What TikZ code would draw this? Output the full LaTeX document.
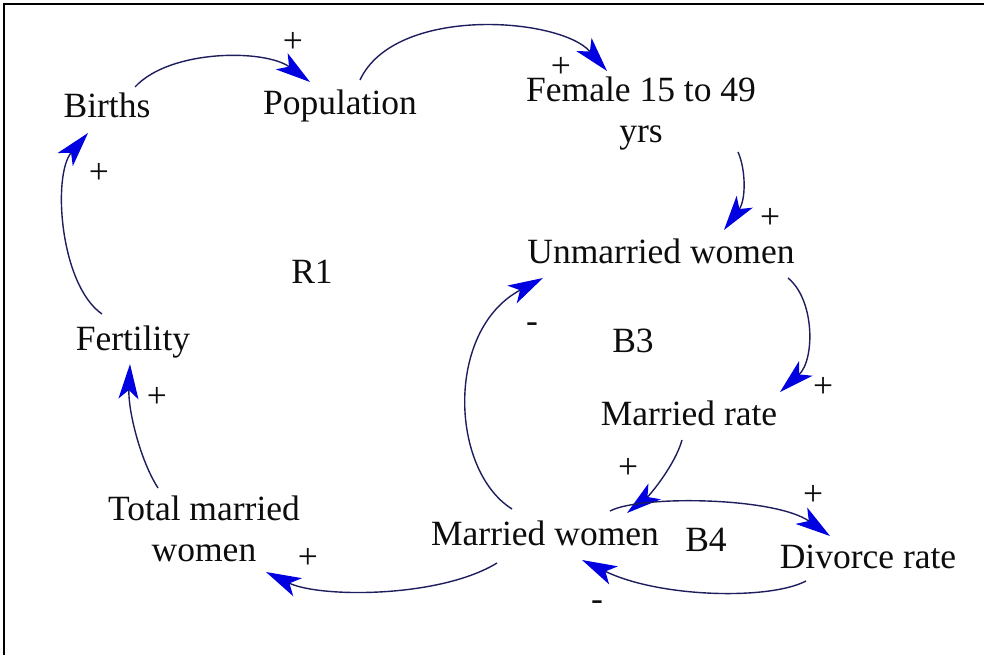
\documentclass[tikz,border=0pt]{standalone}
\usepackage{fontspec}
\setmainfont{Liberation Serif}
\usetikzlibrary{arrows.meta}

\definecolor{linkline}{RGB}{30,30,95}
\definecolor{linkhead}{RGB}{0,0,225}
\newcommand{\vfont}{\fontsize{35.5}{41}\selectfont}

\tikzset{
  var/.style={font=\vfont, inner sep=0pt, anchor=base, text=black!95},
  var2/.style={font=\vfont, inner sep=0pt, anchor=center, align=center, text=black!95},
  sign/.style={font=\vfont, inner sep=0pt, anchor=center, text=black!95},
  minus/.style={font=\vfont, inner sep=0pt, anchor=base, text=black!95},
  link/.style={draw=linkline, line width=1.4pt,
    -{Stealth[length=35pt, width=20pt, inset=9pt, color=linkhead]}},
  frame/.style={draw=black, line width=2pt}
}

\begin{document}
\begin{tikzpicture}[x=1pt, y=-1pt]
  \useasboundingbox[fill=white] (0,0) rectangle (984,655);
  \clip (0,0) rectangle (984,655);
  \draw[frame] (4,4) rectangle (1000,700);

  % variables
  \node[var]  (births)       at (107,118) {Births};
  \node[var]  (population)   at (340,115) {Population};
  \node[var2] (female)       at (641,114) {Female 15 to 49\\yrs};
  \node[var]  (unmarried)    at (661,263) {Unmarried women};
  \node[var]  (marriedrate)  at (689,425) {Married rate};
  \node[var]  (marriedwomen) at (545,545) {Married women};
  \node[var]  (divorce)      at (868,568) {Divorce rate};
  \node[var2] (total)        at (204,529) {Total married\\women};
  \node[var]  (fertility)    at (133,350) {Fertility};

  % loop names
  \node[var] (loopR1) at (312,283) {R1};
  \node[var] (loopB3) at (633,352) {B3};
  \node[var] (loopB4) at (706,551) {B4};

  % causal links
  \draw[link] ([shift={(28,-31)}]births.base)
    .. controls +(35,-38) and +(-45,-33) .. ([shift={(-30,-33)}]population.base);
  \draw[link] ([shift={(20,-35)}]population.base)
    .. controls +(35,-75) and +(-47,-54) .. ([shift={(-34,-43)}]female.center);
  \draw[link] ([shift={(97,38)}]female.center)
    .. controls +(8,18) and +(22,-30) .. ([shift={(63,-33)}]unmarried.base);
  \draw[link] ([shift={(127,15)}]unmarried.base)
    .. controls +(27,22) and +(35,-32) .. ([shift={(91,-33)}]marriedrate.base);
  \draw[link] ([shift={(-7,15)}]marriedrate.base)
    .. controls +(-7,25) and +(23,-18) .. ([shift={(82,-32)}]marriedwomen.base);
  \draw[link] ([shift={(65,-34)}]marriedwomen.base)
    .. controls +(30,-16) and +(-55,-39) .. ([shift={(-38,-32)}]divorce.base);
  \draw[link] ([shift={(-62,13)}]divorce.base)
    .. controls +(-36,19) and +(78,38) .. ([shift={(37,15)}]marriedwomen.base);
  \draw[link] ([shift={(-33,-36)}]marriedwomen.base)
    .. controls +(-62,-39) and +(-98,52) .. ([shift={(-118,15)}]unmarried.base);
  \draw[link] ([shift={(-48,18)}]marriedwomen.base)
    .. controls +(-57,35) and +(54,26) .. ([shift={(62,43)}]total.center);
  \draw[link] ([shift={(-46,-41)}]total.center)
    .. controls +(-18,-28) and +(-2,46) .. ([shift={(-3,14)}]fertility.base);
  \draw[link] ([shift={(-31,-36)}]fertility.base)
    .. controls +(-42,-29) and +(-36,42) .. ([shift={(-19,15)}]births.base);

  % polarities
  \node[sign]  (s1)  at (293,42)  {+};
  \node[sign]  (s2)  at (561,67)  {+};
  \node[sign]  (s3)  at (770,218) {+};
  \node[sign]  (s4)  at (823,387) {+};
  \node[sign]  (s5)  at (628,468) {+};
  \node[sign]  (s6)  at (813,495) {+};
  \node[minus] (s7)  at (597,610) {-};
  \node[minus] (s8)  at (532,332) {-};
  \node[sign]  (s9)  at (308,558) {+};
  \node[sign]  (s10) at (157,397) {+};
  \node[sign]  (s11) at (99,173)  {+};
\end{tikzpicture}
\end{document}
